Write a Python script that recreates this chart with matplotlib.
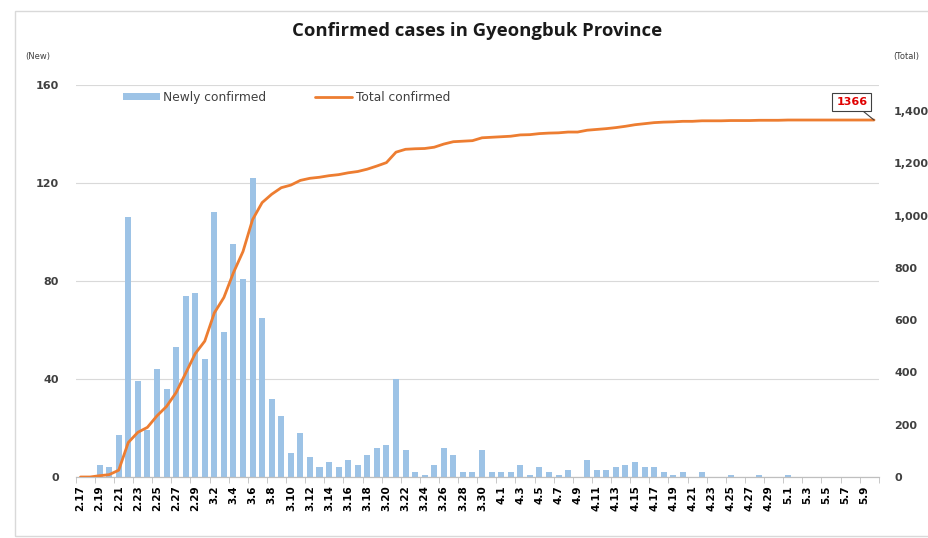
import matplotlib
matplotlib.use('Agg')
import matplotlib.pyplot as plt
from matplotlib.patches import Rectangle
from matplotlib.ticker import FuncFormatter, FixedLocator
import numpy as np

# dates 2.17 .. 5.10
months = [2] * 13 + [3] * 31 + [4] * 30 + [5] * 10
days = list(range(17, 30)) + list(range(1, 32)) + list(range(1, 31)) + list(range(1, 11))
dates = [f'{m}.{d}' for m, d in zip(months, days)]

new_cases = [0, 0, 5, 4, 17, 106, 39, 19, 44, 36, 53, 74, 75,
             48, 108, 59, 95, 81, 122, 65, 32, 25, 10, 18, 8, 4, 6, 4, 7, 5, 9, 12,
             13, 40, 11, 2, 1, 5, 12, 9, 2, 2, 11, 2,
             2, 2, 5, 1, 4, 2, 1, 3, 0, 7, 3, 3, 4, 5, 6, 4, 4, 2, 1, 2, 0, 2,
             0, 0, 1, 0, 0, 1, 0, 0,
             1, 0, 0, 0, 0, 0, 0, 0, 0, 0]

total_cases = [0, 0, 5, 9, 26, 132, 171, 190, 234, 270, 323, 397, 472,
               520, 628, 687, 782, 863, 985, 1050, 1082, 1107, 1117, 1135, 1143,
               1147, 1153, 1157, 1164, 1169, 1178, 1190, 1203, 1243, 1254, 1256,
               1257, 1262, 1274, 1283, 1285, 1287, 1298, 1300,
               1302, 1304, 1309, 1310, 1314, 1316, 1317, 1320, 1320, 1327, 1330,
               1333, 1337, 1342, 1348, 1352, 1356, 1358, 1359, 1361, 1361, 1363,
               1363, 1363, 1364, 1364, 1364, 1365, 1365, 1365,
               1366, 1366, 1366, 1366, 1366, 1366, 1366, 1366, 1366, 1366]

W, H = 929, 538
fig = plt.figure(figsize=(W / 100, H / 100), dpi=100)
fig.patches.append(Rectangle((15 / W, 1 - 536 / H), 1.0, (536 - 11) / H,
                             transform=fig.transFigure, fill=False,
                             edgecolor='#d9d9d9', linewidth=1))

ax = fig.add_axes([75.7 / W, 1 - 477 / H, (878.8 - 75.7) / W, (477 - 85) / H])
ax2 = ax.twinx()

x = np.arange(len(dates))
ax.bar(x, new_cases, width=0.63, color='#9dc3e6', label='Newly confirmed', zorder=2)
ax2.plot(x, total_cases, color='#ed7d31', linewidth=2.0, label='Total confirmed',
         solid_capstyle='round', zorder=3)

ax.set_xlim(-0.5, len(dates) - 0.5)
ax.set_ylim(0, 160)
ax2.set_ylim(0, 1500)
ax.set_yticks([0, 40, 80, 120, 160])
ax2.set_yticks(range(0, 1401, 200))
ax2.yaxis.set_major_formatter(FuncFormatter(lambda v, p: f'{int(v):,}'))

ax.grid(axis='y', color='#d9d9d9', linewidth=0.8, zorder=0)
ax.set_axisbelow(True)
for a in (ax, ax2):
    for s in ('left', 'right', 'top'):
        a.spines[s].set_visible(False)
    a.spines['bottom'].set_color('#bfbfbf')

ax.set_xticks(x[::2])
ax.set_xticklabels(dates[::2], rotation=90, fontsize=7.5, fontweight='bold',
                   family=['Liberation Sans Narrow', 'DejaVu Sans'])
ax.xaxis.set_minor_locator(FixedLocator(np.arange(-0.5, len(dates), 2)))
ax.tick_params(axis='x', which='major', length=0, pad=6)
ax.tick_params(axis='x', which='minor', length=4, color='#bfbfbf', direction='out')
ax.tick_params(axis='y', length=0, pad=12, labelsize=8, labelcolor='#404040')
ax2.tick_params(axis='y', length=0, pad=11, labelsize=8, labelcolor='#404040')
for lab in ax.get_yticklabels() + ax2.get_yticklabels():
    lab.set_fontweight('bold')

fig.text(477 / W, 1 - 31 / H, 'Confirmed cases in Gyeongbuk Province',
         ha='center', va='center', fontsize=13.3, fontweight='bold',
         family='Open Sans', color='#1a1a1a')
fig.text(25 / W, 1 - 57 / H, '(New)', fontsize=6, va='center', color='#404040')
fig.text(893 / W, 1 - 57 / H, '(Total)', fontsize=6, va='center', color='#404040')

h1, l1 = ax.get_legend_handles_labels()
h2, l2 = ax2.get_legend_handles_labels()
ax2.legend(h1 + h2, l1 + l2, ncol=2, loc='upper left', bbox_to_anchor=(0.045, 1.012),
           frameon=False, fontsize=9, handlelength=3.0, handleheight=0.5,
           columnspacing=4.0, handletextpad=0.3, labelcolor='#404040',
           prop={'family': 'DejaVu Sans', 'size': 8.8})

ax2.annotate(str(total_cases[-1]), xy=(x[-1], total_cases[-1]),
             xytext=(-16, 13), textcoords='offset points', ha='center', va='center',
             color='#e00000', fontsize=8, fontweight='bold',
             bbox=dict(boxstyle='square,pad=0.35', fc='white', ec='#404040', lw=0.8),
             arrowprops=dict(arrowstyle='-', color='#404040', lw=0.8,
                             shrinkA=0, shrinkB=0))

fig.savefig('out.png', dpi=100)
